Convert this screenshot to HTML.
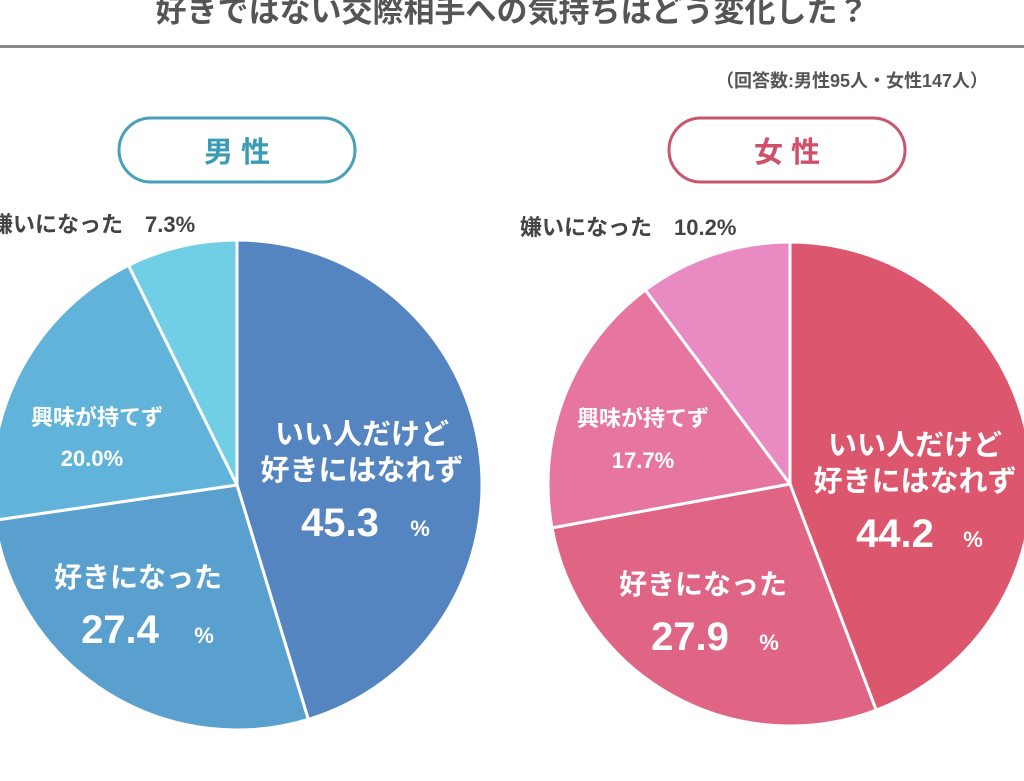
<!DOCTYPE html><html><head><meta charset="utf-8"><style>
body{margin:0;width:1024px;height:776px;overflow:hidden;background:#fff}
svg text{font-family:"Liberation Sans","Noto Sans CJK JP",sans-serif;font-weight:bold}
</style></head><body>
<svg width="1024" height="776" viewBox="0 0 1024 776">
<text x="512" y="22" text-anchor="middle" font-size="31" fill="#555">好きではない交際相手への気持ちはどう変化した？</text>
<rect x="0" y="45" width="1024" height="3" fill="#8a8a8a"/>
<text x="716" y="87" font-size="18" fill="#555">（回答数:男性95人・女性147人）</text>
<rect x="119" y="118" width="236" height="64" rx="32" fill="none" stroke="#4aa0b8" stroke-width="3"/>
<text x="237" y="162" text-anchor="middle" font-size="29" fill="#3a9bb5">男 性</text>
<rect x="669" y="118" width="236" height="64" rx="32" fill="none" stroke="#c9566a" stroke-width="3"/>
<text x="787" y="162" text-anchor="middle" font-size="29" fill="#d0506a">女 性</text>
<text x="-9" y="232" font-size="22" fill="#444">嫌いになった　7.3%</text>
<text x="520" y="235" font-size="22" fill="#444">嫌いになった　10.2%</text>
<g stroke="#fff" stroke-width="3">
<path d="M237 485 L237 240 A245 245 0 0 1 308.3 719.4Z" fill="#5485c0"/>
<path d="M237 485 L308.3 719.4 A245 245 0 0 1 -5.4 520.3Z" fill="#5aa0ce"/>
<path d="M237 485 L-5.4 520.3 A245 245 0 0 1 128.5 265.3Z" fill="#62b3d9"/>
<path d="M237 485 L128.5 265.3 A245 245 0 0 1 237 240Z" fill="#70cfe5"/>
<path d="M790 484 L790 242 A242 242 0 0 1 876.2 710.1Z" fill="#dc566d"/>
<path d="M790 484 L876.2 710.1 A242 242 0 0 1 552 527.9Z" fill="#e06585"/>
<path d="M790 484 L552 527.9 A242 242 0 0 1 645.3 290Z" fill="#e676a0"/>
<path d="M790 484 L645.3 290 A242 242 0 0 1 790 242Z" fill="#e98ac3"/>
</g>
<g fill="#fff">
<text x="362" y="444" text-anchor="middle" font-size="29">いい人だけど</text>
<text x="362" y="480" text-anchor="middle" font-size="29">好きにはなれず</text>
<text x="340" y="536" text-anchor="middle" font-size="40">45.3</text><text x="420" y="536" text-anchor="middle" font-size="22">%</text>
<text x="97" y="425" text-anchor="middle" font-size="22">興味が持てず</text>
<text x="92" y="466" text-anchor="middle" font-size="22">20.0%</text>
<text x="138" y="587" text-anchor="middle" font-size="28">好きになった</text>
<text x="120" y="643" text-anchor="middle" font-size="40">27.4</text><text x="204" y="643" text-anchor="middle" font-size="22">%</text>
<text x="915" y="455" text-anchor="middle" font-size="29">いい人だけど</text>
<text x="915" y="491" text-anchor="middle" font-size="29">好きにはなれず</text>
<text x="895" y="547" text-anchor="middle" font-size="40">44.2</text><text x="973" y="547" text-anchor="middle" font-size="22">%</text>
<text x="643" y="426" text-anchor="middle" font-size="22">興味が持てず</text>
<text x="643" y="468" text-anchor="middle" font-size="22">17.7%</text>
<text x="703" y="594" text-anchor="middle" font-size="28">好きになった</text>
<text x="690" y="650" text-anchor="middle" font-size="40">27.9</text><text x="769" y="650" text-anchor="middle" font-size="22">%</text>
</g>
</svg>
</body></html>
